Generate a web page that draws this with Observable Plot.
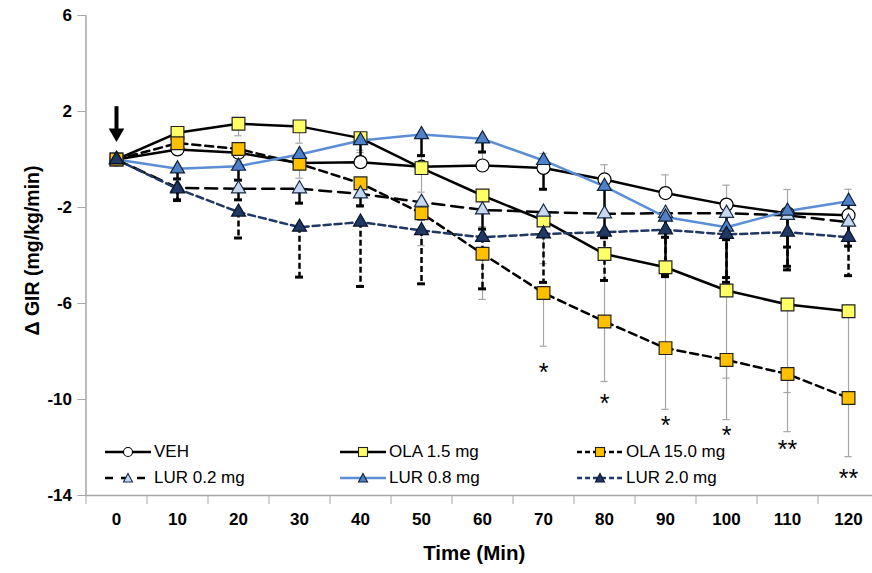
<!DOCTYPE html>
<html><head><meta charset="utf-8">
<script src="https://cdn.jsdelivr.net/npm/d3@7"></script>
<script src="https://cdn.jsdelivr.net/npm/@observablehq/plot@0.6"></script>
<style>
body{margin:0;background:#fff;font-family:"Liberation Sans",Arial,sans-serif;}
#wrap{position:relative;width:872px;height:573px;overflow:hidden;}
.leg{position:absolute;display:flex;align-items:center;height:20px;font-size:17px;color:#000;white-space:nowrap;}
.leg svg{margin-right:3px;}
</style></head><body><div id="wrap"></div>
<script>
// ---- data ----
const times = [0,10,20,30,40,50,60,70,80,90,100,110,120];
const yTicks = [6,2,-2,-6,-10,-14];
const vehMean  = [0,0.42,0.28,-0.15,-0.11,-0.30,-0.25,-0.35,-0.83,-1.40,-1.88,-2.24,-2.32];
const vehErr   = [0,0.30,0.40,0.30,0.50,0.50,0.60,0.60,0.61,0.76,0.81,0.99,1.08];
const ola15Mean = [0,1.11,1.49,1.38,0.89,-0.36,-1.50,-2.54,-3.94,-4.49,-5.46,-6.04,-6.32];
const ola15Err  = [0,0.30,0.50,0.70,0.60,1.00,1.30,1.80,2.80,3.40,3.65,3.67,3.60];
const ola150Mean = [0,0.68,0.44,-0.18,-0.99,-2.24,-3.93,-5.56,-6.75,-7.86,-8.35,-8.94,-9.94];
const ola150Err  = [0,0.30,0.50,0.60,1.00,1.35,1.90,2.22,2.50,2.55,2.49,2.40,2.44];
const lur02Mean = [0,-1.18,-1.22,-1.22,-1.43,-1.78,-2.10,-2.19,-2.26,-2.24,-2.24,-2.33,-2.61];
const lur02Err  = [0,0.50,0.46,0.60,0.50,0.70,0.80,0.90,1.00,1.00,1.10,1.32,1.00];
const lur08Mean = [0,-0.39,-0.28,0.21,0.79,1.04,0.86,-0.04,-1.12,-2.40,-2.82,-2.15,-1.74];
const lur08Err  = [0,0.42,0.58,0.40,0.70,0.88,0.55,1.20,1.20,2.40,2.10,2.30,1.50];
const lur20Mean = [0,-1.22,-2.19,-2.82,-2.61,-2.96,-3.24,-3.10,-3.03,-2.93,-3.12,-3.03,-3.24];
const lur20Err  = [0,0.49,1.08,2.08,2.68,2.22,2.15,2.02,2.01,1.95,2.00,1.57,1.60];
const sigTimes  = [70,80,90,100,110,120];
const sigLevels = [-8.9,-10.2,-11.1,-11.5,-12.1,-13.3];
const sigLabels = ["*","*","*","*","**","**"];
const arrowTime = [0];
const arrowFrom = [2.2];
const arrowTo = [1.25];
const arrowHead = [1.1];

// ---- series styles ----
const series = [
  {name:"VEH", mean:vehMean, err:vehErr, dir:1, line:"#000", dash:null, symbol:"circle", r:6.5, fill:"#fff", dstroke:"#000", eb:"gray"},
  {name:"OLA 1.5 mg", mean:ola15Mean, err:ola15Err, dir:-1, line:"#000", dash:null, symbol:"square", r:7.2, fill:"#FFFF66", dstroke:"#222", eb:"gray"},
  {name:"OLA 15.0 mg", mean:ola150Mean, err:ola150Err, dir:-1, line:"#000", dash:"8,5", symbol:"square", r:7.2, fill:"#FFC000", dstroke:"#222", eb:"gray"},
  {name:"LUR 0.2 mg", mean:lur02Mean, err:lur02Err, dir:-1, line:"#000", dash:"12,7", symbol:"triangle", r:5.2, fill:"#C6D9F1", dstroke:"#1a2a44", eb:"black"},
  {name:"LUR 0.8 mg", mean:lur08Mean, err:lur08Err, dir:-1, line:"#5B8ED5", dash:null, symbol:"triangle", r:5.2, fill:"#4F81C9", dstroke:"#10203a", eb:"black"},
  {name:"LUR 2.0 mg", mean:lur20Mean, err:lur20Err, dir:-1, line:"#1F3864", dash:"7,4", symbol:"triangle", r:5.2, fill:"#1F3864", dstroke:"#0a1428", eb:"blackdash"}
];
series.forEach(s => s.rows = times.map((t,i)=>({t, v:s.mean[i], e:s.err[i], end:s.mean[i]+s.dir*s.err[i]})));

const marks = [];
// error bars
series.forEach(s => {
  const rows = s.rows.filter(d=>d.e>0);
  if (s.eb==="gray") {
    marks.push(Plot.ruleX(rows,{x:"t",y1:"v",y2:"end",stroke:"#a6a6a6",strokeWidth:1.2}));
    marks.push(Plot.ruleY(rows,{y:"end",x1:d=>d.t-0.6,x2:d=>d.t+0.6,stroke:"#a6a6a6",strokeWidth:1.2}));
  } else {
    marks.push(Plot.ruleX(rows,{x:"t",y1:"v",y2:"end",stroke:"#000",strokeWidth:2.5,strokeDasharray:s.eb==="blackdash"?"6,3":null}));
    marks.push(Plot.ruleY(rows,{y:"end",x1:d=>d.t-0.65,x2:d=>d.t+0.65,stroke:"#000",strokeWidth:3}));
  }
});
// lines and markers
series.forEach(s => {
  marks.push(Plot.line(s.rows,{x:"t",y:"v",stroke:s.line,strokeWidth:2.5,strokeDasharray:s.dash}));
});
series.forEach(s => {
  marks.push(Plot.dot(s.rows,{x:"t",y:"v",symbol:s.symbol,r:s.r,fill:s.fill,stroke:s.dstroke,strokeWidth:1.2}));
});
// arrow
const arrowRows = arrowTime.map((t,i)=>({t, a:arrowFrom[i], b:arrowTo[i], h:arrowHead[i]}));
marks.push(Plot.ruleX(arrowRows,{x:"t",y1:"a",y2:"b",stroke:"#000",strokeWidth:4}));
marks.push(Plot.dot(arrowRows,{x:"t",y:"h",symbol:"triangle",r:5.8,fill:"#000",rotate:180}));
// significance
const sigRows = sigTimes.map((t,i)=>({t, y:sigLevels[i], s:sigLabels[i]}));
marks.push(Plot.text(sigRows,{x:"t",y:"y",text:"s",fontSize:25,fill:"#000",fontFamily:"Liberation Sans"}));
// axes
const xBounds = times.map(t=>t-5).concat([times[times.length-1]+5]);
marks.push(Plot.ruleY([-14],{stroke:"#a6a6a6",strokeWidth:1.5}));
marks.push(Plot.ruleX([-5],{stroke:"#a6a6a6",strokeWidth:1.5}));
marks.push(Plot.axisX({ticks:xBounds,tickSize:9,tickFormat:()=>"",stroke:"#a6a6a6",label:null}));
marks.push(Plot.axisX({ticks:times,tickSize:0,tickPadding:17,fontSize:17,fontWeight:"bold",fill:"#000",tickFormat:d=>String(d),label:null}));
marks.push(Plot.axisY({ticks:yTicks,tickSize:8,tickPadding:6,fontSize:17,fontWeight:"bold",fill:"#000",stroke:"#a6a6a6",tickFormat:d=>String(d),label:null}));
marks.push(Plot.text(["Δ GIR (mg/kg/min)"],{frameAnchor:"left",textAnchor:"middle",lineAnchor:"middle",dx:-53,dy:-5,rotate:-90,fontSize:19.5,fontWeight:"bold",fill:"#000"}));
marks.push(Plot.text(["Time (Min)"],{frameAnchor:"bottom",textAnchor:"middle",lineAnchor:"middle",dy:58,dx:-5,fontSize:20.5,fontWeight:"bold",fill:"#000"}));

const chart = Plot.plot({
  width:872, height:573,
  marginLeft:85.5, marginRight:0, marginTop:15, marginBottom:78,
  style:{fontFamily:"Liberation Sans, Arial, sans-serif", background:"#fff", overflow:"visible"},
  x:{domain:[-5,123.93], label:null},
  y:{domain:[-14,6], label:null},
  marks
});
const wrap = document.getElementById("wrap");
wrap.appendChild(chart);

// legend (HTML overlay inside plot area)
const legPos = [[105,452],[340,452],[577,452],[105,478],[340,478],[577,478]];
series.forEach((s,i)=>{
  const [x,y] = legPos[i];
  const div = document.createElement("div");
  div.className="leg";
  div.style.left = x+"px"; div.style.top = (y-10)+"px";
  const ns="http://www.w3.org/2000/svg";
  const svg = document.createElementNS(ns,"svg");
  svg.setAttribute("width","46"); svg.setAttribute("height","16");
  const ln = document.createElementNS(ns,"line");
  ln.setAttribute("x1","0"); ln.setAttribute("x2","46"); ln.setAttribute("y1","8"); ln.setAttribute("y2","8");
  ln.setAttribute("stroke",s.line); ln.setAttribute("stroke-width","2.5");
  if (s.dash) ln.setAttribute("stroke-dasharray", s.dash==="12,7"?"8,8":"5,3");
  svg.appendChild(ln);
  let m;
  if (s.symbol==="circle"){ m=document.createElementNS(ns,"circle"); m.setAttribute("cx","23"); m.setAttribute("cy","8"); m.setAttribute("r","4.5"); }
  else if (s.symbol==="square"){ m=document.createElementNS(ns,"rect"); m.setAttribute("x","18.5"); m.setAttribute("y","3.5"); m.setAttribute("width","9"); m.setAttribute("height","9"); }
  else { m=document.createElementNS(ns,"path"); m.setAttribute("d","M23,3.5L27.5,12L18.5,12Z"); }
  m.setAttribute("fill",s.fill); m.setAttribute("stroke",s.dstroke); m.setAttribute("stroke-width","1.1");
  svg.appendChild(m);
  div.appendChild(svg);
  const sp = document.createElement("span"); sp.textContent = s.name;
  div.appendChild(sp);
  wrap.appendChild(div);
});
</script></body></html>
